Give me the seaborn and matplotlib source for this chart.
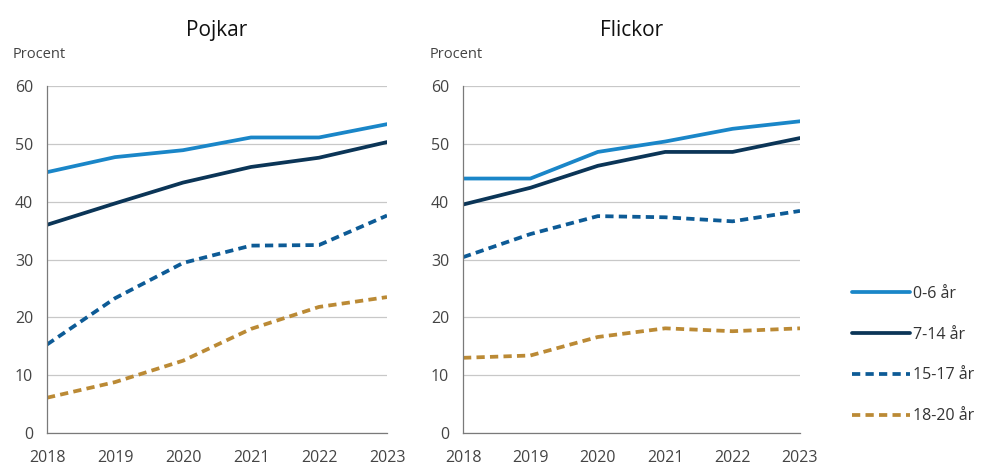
import pandas as pd
import seaborn as sns
import matplotlib.pyplot as plt

years = [2018, 2019, 2020, 2021, 2022, 2023]
groups = ['0-6 år', '7-14 år', '15-17 år', '18-20 år']

# Pojkar
pojkar_0_6 = [45.1, 47.7, 48.9, 51.1, 51.1, 53.4]
pojkar_7_14 = [36.0, 39.7, 43.3, 46.0, 47.6, 50.3]
pojkar_15_17 = [15.3, 23.3, 29.4, 32.4, 32.5, 37.6]
pojkar_18_20 = [6.1, 8.8, 12.5, 18.0, 21.8, 23.5]

# Flickor
flickor_0_6 = [44.0, 44.0, 48.6, 50.4, 52.6, 53.9]
flickor_7_14 = [39.5, 42.4, 46.2, 48.6, 48.6, 51.0]
flickor_15_17 = [30.4, 34.4, 37.5, 37.3, 36.6, 38.4]
flickor_18_20 = [13.0, 13.4, 16.6, 18.1, 17.6, 18.1]

colors = ['#1a86c8', '#0b3557', '#0d5b96', '#bb8a35']
palette = dict(zip(groups, colors))
dashes = {'0-6 år': '', '7-14 år': '', '15-17 år': (2.2, 1.4), '18-20 år': (2.2, 1.4)}


def make_df(series):
    rows = []
    for g, vals in zip(groups, series):
        for y, v in zip(years, vals):
            rows.append({'år': y, 'grupp': g, 'värde': v})
    return pd.DataFrame(rows)


df_p = make_df([pojkar_0_6, pojkar_7_14, pojkar_15_17, pojkar_18_20])
df_f = make_df([flickor_0_6, flickor_7_14, flickor_15_17, flickor_18_20])

sns.set_style('white')
plt.rcParams['font.family'] = ['Open Sans', 'DejaVu Sans']

fig = plt.figure(figsize=(9.87, 4.67), dpi=100)
ax1 = fig.add_axes([47 / 987, 1 - 433 / 467, 340 / 987, 347 / 467])
ax2 = fig.add_axes([463 / 987, 1 - 433 / 467, 337 / 987, 347 / 467])

for ax, df, title in [(ax1, df_p, 'Pojkar'), (ax2, df_f, 'Flickor')]:
    sns.lineplot(data=df, x='år', y='värde', hue='grupp', style='grupp',
                 palette=palette, dashes=dashes, hue_order=groups,
                 style_order=groups, linewidth=2.7, ax=ax, legend=False)
    ax.set_xlim(2018, 2023)
    ax.set_ylim(0, 60)
    ax.set_xticks(years)
    ax.set_yticks(range(0, 61, 10))
    ax.yaxis.grid(True, color='#c8c8c8', linewidth=0.9)
    ax.set_axisbelow(True)
    for s in ['top', 'right']:
        ax.spines[s].set_visible(False)
    for s in ['left', 'bottom']:
        ax.spines[s].set_color('#7a7a7a')
        ax.spines[s].set_linewidth(0.9)
    ax.tick_params(axis='x', direction='out', length=5, width=0.9,
                   color='#7a7a7a', labelsize=11.5, labelcolor='#444444', pad=7)
    ax.tick_params(axis='y', length=0, labelsize=11.5, labelcolor='#444444', pad=10)
    ax.set_xlabel('')
    ax.set_ylabel('')
    ax.text(-0.1, 1.07, 'Procent', transform=ax.transAxes, fontsize=10.5,
            color='#444444', ha='left', va='bottom')
    ax.set_title(title, fontsize=15, pad=36, color='#111111')

handles = []
for g in groups:
    h = plt.Line2D([], [], color=palette[g], linewidth=2.7)
    if dashes[g]:
        h.set_dashes(dashes[g])
    handles.append(h)
fig.legend(handles, groups, loc='center left', bbox_to_anchor=(838 / 987, 1 - 355 / 467),
           frameon=False, fontsize=11.5, labelcolor='#333333', handlelength=3.6,
           handletextpad=0.2, labelspacing=1.55)

fig.savefig('out.png', dpi=100)
